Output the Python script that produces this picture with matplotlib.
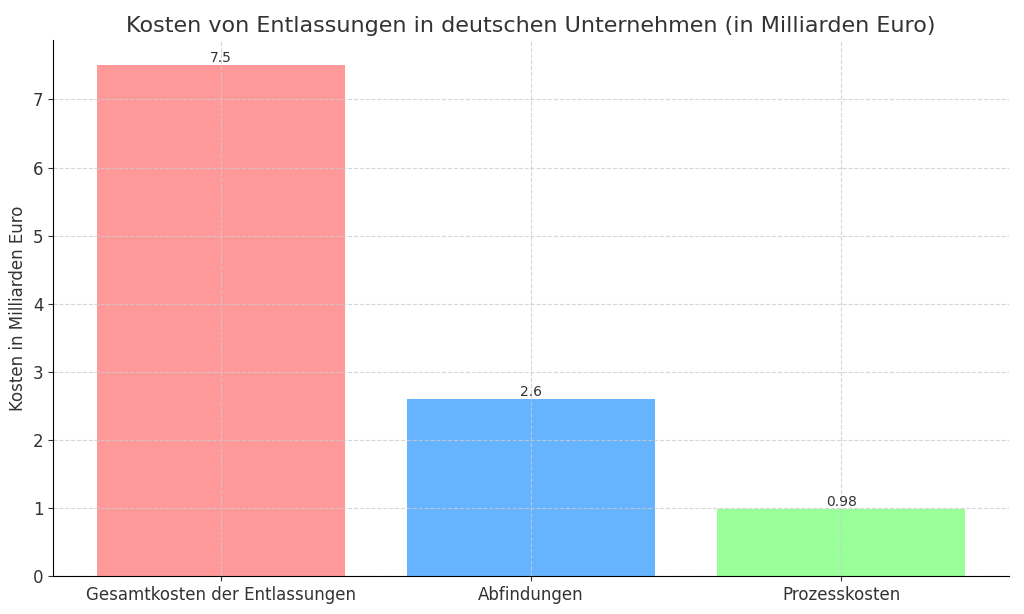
import matplotlib.pyplot as plt

categories = ["Gesamtkosten der Entlassungen", "Abfindungen", "Prozesskosten"]
costs = [7.5, 2.6, 0.98]
colors = ["#ff9999", "#66b3ff", "#99ff99"]

plt.rcParams['text.color'] = '#333333'
plt.rcParams['axes.labelcolor'] = '#333333'
plt.rcParams['xtick.color'] = '#333333'
plt.rcParams['ytick.color'] = '#333333'

fig, ax = plt.subplots(figsize=(10.24, 6.14), dpi=100)
bars = ax.bar(categories, costs, color=colors)

for bar, val in zip(bars, costs):
    ax.text(bar.get_x() + bar.get_width() / 2, bar.get_height(), f"{val}",
            ha="center", va="bottom", fontsize=10)

ax.set_title("Kosten von Entlassungen in deutschen Unternehmen (in Milliarden Euro)", fontsize=16)
ax.set_ylabel("Kosten in Milliarden Euro", fontsize=12)
ax.tick_params(axis="both", labelsize=12)
ax.grid(True, linestyle="--", color="#cccccc", alpha=0.8)
ax.spines["top"].set_visible(False)
ax.spines["right"].set_visible(False)

plt.subplots_adjust(left=0.052, right=0.985, top=0.935, bottom=0.062)
plt.savefig("out.png", dpi=100)
